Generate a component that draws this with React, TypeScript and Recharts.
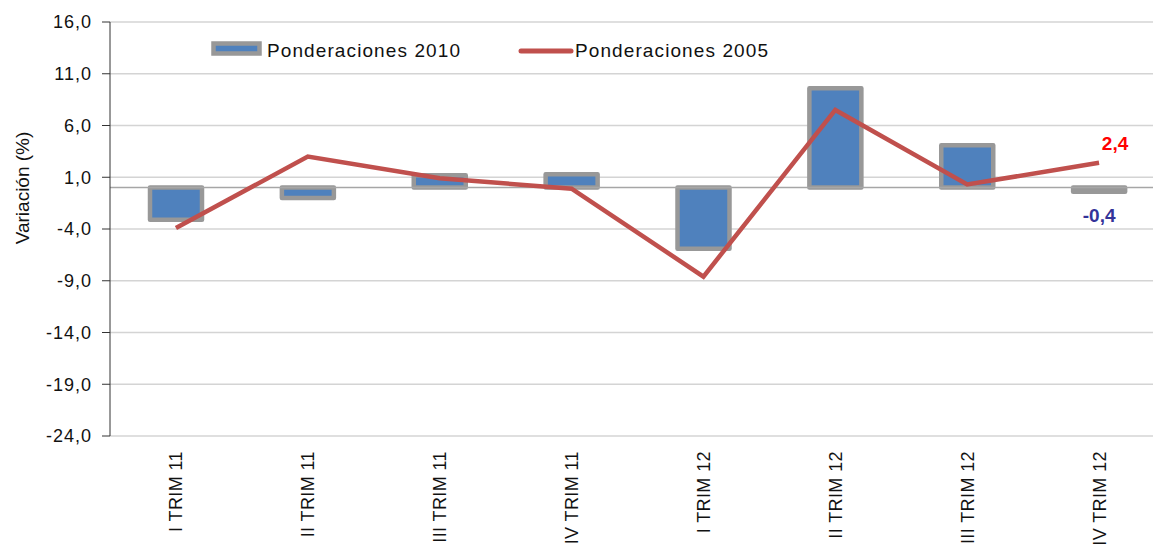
import React from "react";
import {
  ComposedChart,
  Bar,
  Line,
  XAxis,
  YAxis,
  CartesianGrid,
  ReferenceLine,
  LabelList,
} from "recharts";

// Data
const CATEGORIES = [
  "I TRIM 11",
  "II TRIM 11",
  "III TRIM 11",
  "IV TRIM 11",
  "I TRIM 12",
  "II TRIM 12",
  "III TRIM 12",
  "IV TRIM 12",
];
const POND_2010 = [-3.1, -1.0, 1.2, 1.3, -5.9, 9.6, 4.1, -0.4];
const POND_2005 = [-3.9, 3.0, 0.9, -0.1, -8.6, 7.5, 0.3, 2.4];
const Y_TICKS = [-24, -19, -14, -9, -4, 1, 6, 11, 16];

const FONT = "Arial, 'Liberation Sans', sans-serif";
const BAR_FILL = "#4F81BD";
const BAR_STROKE = "#989898";
const LINE_COLOR = "#C0504D";

const data = CATEGORIES.map((cat, i) => ({
  cat,
  p2010: POND_2010[i],
  p2005: POND_2005[i],
}));

const fmt = (v: number) => v.toFixed(1).replace(".", ",");

// rotated category labels
const CatTick = (props: any) => {
  const { x, payload } = props;
  const y = 451;
  return (
    <text
      x={x}
      y={y}
      transform={`rotate(-90, ${x}, ${y})`}
      textAnchor="end"
      dy="0.36em"
      fontSize={18}
      letterSpacing={0.4}
      fontFamily={FONT}
      fill="#111"
    >
      {payload.value}
    </text>
  );
};

// legend drawn over the chart, like the original
const LegendBox = () => (
  <svg
    width={600}
    height={30}
    style={{ position: "absolute", left: 211, top: 36, display: "block" }}
  >
    <rect x={2.5} y={7.5} width={46} height={10} fill={BAR_FILL} stroke={BAR_STROKE} strokeWidth={4.5} />
    <text x={56} y={21} fontSize={19} letterSpacing={1.1} fontFamily={FONT} fill="#111">
      Ponderaciones 2010
    </text>
    <line x1={310} y1={15} x2={360} y2={15} stroke={LINE_COLOR} strokeWidth={5} strokeLinecap="round" />
    <text x={364} y={21} fontSize={19} letterSpacing={1.1} fontFamily={FONT} fill="#111">
      Ponderaciones 2005
    </text>
  </svg>
);

const LastLineLabel = (props: any) => {
  const { x, y, index, value } = props;
  if (index !== CATEGORIES.length - 1) return null;
  return (
    <text x={x + 16} y={y - 13} textAnchor="middle" fontSize={19} fontWeight={700} fontFamily={FONT} fill="#FF0000">
      {fmt(value)}
    </text>
  );
};

const LastBarLabel = (props: any) => {
  const { x, y, width, height, index, value } = props;
  if (index !== CATEGORIES.length - 1) return null;
  return (
    <text
      x={x + width / 2}
      y={y + height + 34}
      textAnchor="middle"
      fontSize={19}
      fontWeight={700}
      fontFamily={FONT}
      fill="#333399"
    >
      {fmt(value)}
    </text>
  );
};

export default function App() {
  return (
    <div style={{ position: "absolute", left: 0, top: 0, width: 1153, height: 551, overflow: "hidden", background: "#fff" }}>
      <ComposedChart
        width={1170}
        height={551}
        data={data}
        margin={{ top: 22, right: 5, left: 0, bottom: 0 }}
        barCategoryGap={0}
      >
        <CartesianGrid vertical={false} stroke="#d4d4d4" strokeWidth={1.3} />
        <XAxis
          dataKey="cat"
          height={115}
          axisLine={false}
          tickLine={false}
          interval={0}
          tick={<CatTick />}
        />
        <YAxis
          width={110}
          domain={[-24, 16]}
          ticks={Y_TICKS}
          interval={0}
          tickFormatter={fmt}
          allowDataOverflow
          stroke="#333"
          tickSize={8}
          tickMargin={10}
          tick={{ fontSize: 18, fill: "#111", fontFamily: FONT, letterSpacing: 1 }}
          label={{
            content: () => (
              <text
                x={22}
                y={188}
                transform="rotate(-90, 22, 188)"
                textAnchor="middle"
                dominantBaseline="central"
                fontSize={19}
                fontFamily={FONT}
                fill="#111"
              >
                Variación (%)
              </text>
            ),
          }}
        />
        <ReferenceLine y={0} stroke="#a6a6a6" strokeWidth={1.5} />
        <Bar
          dataKey="p2010"
          name="Ponderaciones 2010"
          fill={BAR_FILL}
          stroke={BAR_STROKE}
          strokeWidth={4.5}
          strokeLinejoin="round"
          barSize={52}
          isAnimationActive={false}
        >
          <LabelList dataKey="p2010" content={<LastBarLabel />} />
        </Bar>
        <Line
          dataKey="p2005"
          name="Ponderaciones 2005"
          type="linear"
          stroke={LINE_COLOR}
          strokeWidth={4.5}
          dot={false}
          activeDot={false}
          isAnimationActive={false}
        >
          <LabelList dataKey="p2005" content={<LastLineLabel />} />
        </Line>
      </ComposedChart>
      <LegendBox />
    </div>
  );
}
